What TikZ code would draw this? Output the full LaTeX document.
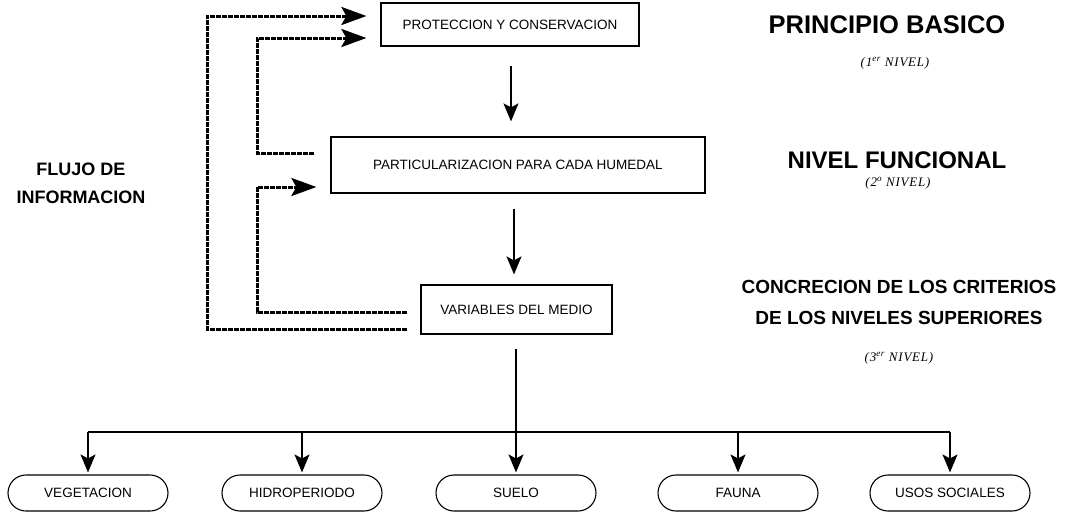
\documentclass[tikz,border=0pt]{standalone}
\usepackage{fontspec}
\setmainfont{Liberation Sans}
\newfontfamily\nivelfont{Liberation Serif}[LetterSpace=6]
\usetikzlibrary{arrows.meta,shapes.misc}
\begin{document}
\begin{tikzpicture}[x=1pt,y=-1pt,
  box/.style={draw,line width=1.2pt,inner sep=0pt,font=\fontsize{13.5}{15}\selectfont},
  leaf/.style={draw,rounded rectangle,line width=1.1pt,minimum width=160pt,minimum height=36pt,inner sep=0pt,font=\fontsize{13.5}{15}\selectfont},
  arr/.style={line width=1.6pt,-{Stealth[length=18pt,width=15pt,inset=4pt]}},
  fb/.style={line width=3pt,dash pattern=on 5pt off 1pt,-{Stealth[length=25pt,width=18pt,inset=5pt]}},
  head/.style={font=\bfseries\fontsize{24}{28}\selectfont,inner sep=0pt},
  nivel/.style={font=\nivelfont\itshape\fontsize{13}{15}\selectfont,inner sep=0pt}
]
\useasboundingbox (0,0) rectangle (1071,512);

% main boxes
\node[box,minimum width=258pt,minimum height=43pt] (p1) at (510,24.5) {PROTECCION Y CONSERVACION};
\node[box,minimum width=374pt,minimum height=56pt] (p2) at (518,165) {PARTICULARIZACION PARA CADA HUMEDAL};
\node[box,minimum width=191pt,minimum height=49pt] (p3) at (516.5,309.5) {VARIABLES DEL MEDIO};

% leaf nodes
\node[leaf] (s1) at (88,493) {VEGETACION};
\node[leaf] (s2) at (302,493) {HIDROPERIODO};
\node[leaf] (s3) at (516,493) {SUELO};
\node[leaf] (s4) at (738,493) {FAUNA};
\node[leaf] (s5) at (950,493) {USOS SOCIALES};

% right-hand labels
\node[head,font=\bfseries\fontsize{25.5}{28}\selectfont] (h1) at (887,25) {PRINCIPIO BASICO};
\node[nivel] (n1) at (895,63) {(1\textsuperscript{er} NIVEL)};
\node[head] (h2) at (897,160) {NIVEL FUNCIONAL};
\node[nivel] (n2) at (898,183) {(2\textsuperscript{o} NIVEL)};
\node[head,font=\bfseries\fontsize{19}{31}\selectfont,align=center] (h3) at (899,302) {CONCRECION DE LOS CRITERIOS\\DE LOS NIVELES SUPERIORES};
\node[nivel] (n3) at (899,358) {(3\textsuperscript{er} NIVEL)};
\node[head,font=\bfseries\fontsize{18}{28}\selectfont,align=center] (fl) at (81,183) {FLUJO DE\\INFORMACION};

% vertical flow
\draw[arr] ([shift={(1,19)}]p1.south) -- ([shift={(1,-15)}]p1.south |- p2.north);
\draw[arr] ([shift={(-4,15)}]p2.south) -- ([shift={(-4,-10)}]p2.south |- p3.north);

% distribution bus
\coordinate (bus) at (0,432);
\draw[line width=1.6pt] ([shift={(-0.5,14)}]p3.south) -- ([shift={(-0.5,14)}]p3.south |- bus);
\draw[line width=1.6pt] (s1.north |- bus) -- (s5.north |- bus);
\foreach \s in {s1,s2,s3,s4,s5}
  \draw[arr] (\s.north |- bus) -- ([shift={(0,-2)}]\s.north);

% feedback loops
\draw[fb] ([shift={(-13,19.5)}]p3.west) -- ++(-200,0) |- ([shift={(-14,-8.5)}]p1.west);
\draw[fb] ([shift={(-16,-12)}]p2.west) -- ++(-57,0) |- ([shift={(-14,13.5)}]p1.west);
\draw[fb] ([shift={(-13,2.5)}]p3.west) -- ++(-150,0) |- ([shift={(-14,22)}]p2.west);
\end{tikzpicture}
\end{document}
